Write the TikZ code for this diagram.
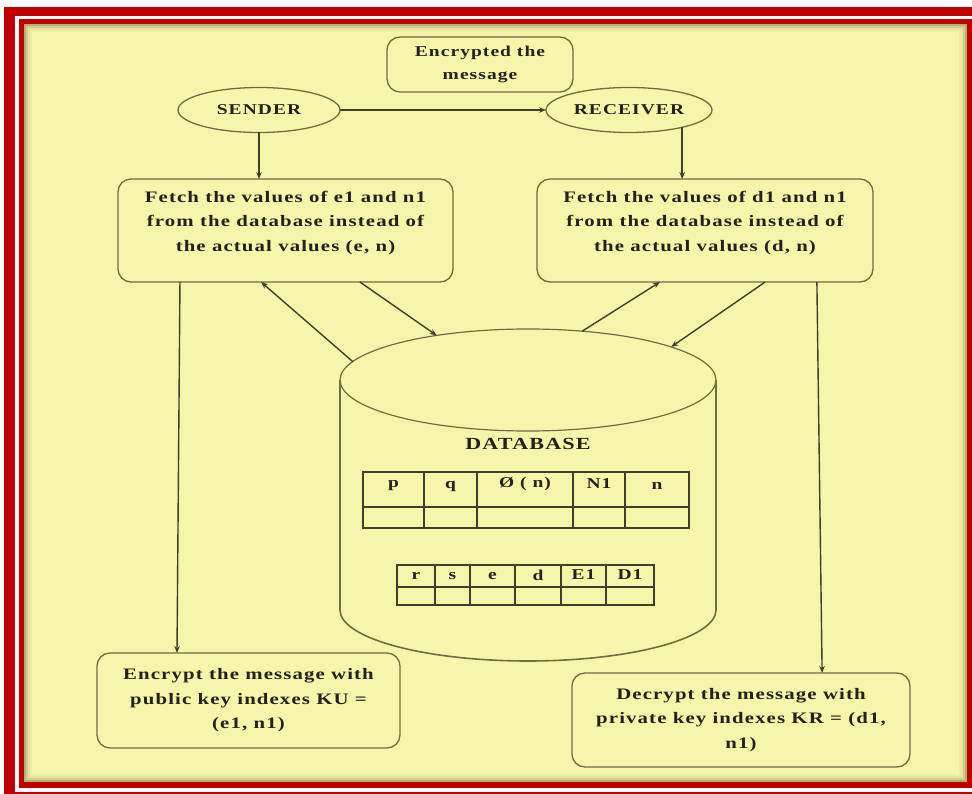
\documentclass[tikz,border=0pt]{standalone}
\usepackage{fontspec}
\usetikzlibrary{shapes.geometric,arrows.meta,calc}
\newfontfamily\diagfont{Liberation Serif}[FakeStretch=1.3,LetterSpace=7]
\definecolor{panel}{HTML}{F6F6AB}
\definecolor{framered}{HTML}{C00000}
\definecolor{boxline}{HTML}{6E6E40}
\definecolor{lineclr}{HTML}{40402A}
\definecolor{txt}{HTML}{22221A}
\tikzset{
  boxnode/.style={draw=boxline, line width=1.3pt, rounded corners=13pt, fill=panel,
    align=center, text=txt, inner sep=0pt, outer sep=0pt,
    font=\diagfont\bfseries\fontsize{16}{24.5}\selectfont},
  ovalnode/.style={draw=boxline, line width=1.3pt, ellipse, fill=panel, text=txt,
    inner sep=0pt, outer sep=0pt, font=\diagfont\bfseries\fontsize{15}{18}\selectfont},
  arr/.style={draw=lineclr, line width=1.4pt, -{Stealth[length=7pt,width=5.5pt]}},
  cell/.style={text=txt, inner sep=0pt, font=\diagfont\bfseries\fontsize{15}{16}\selectfont},
  tabline/.style={draw=lineclr, line width=1.5pt},
}
\begin{document}
\begin{tikzpicture}[x=1pt,y=-1pt]
\useasboundingbox (0,0) rectangle (972,794);
\clip (0,0) rectangle (972,794);
% frame
\fill[white] (0,0) rectangle (972,794);
\fill[framered] (4,7) rectangle (1000,820);
\fill[white] (15,16) rectangle (1000,792);
\fill[framered] (19,19) rectangle (1000,788);
\fill[panel] (24,24) rectangle (967,782);
\draw[olive!60!black, opacity=0.45, line width=2pt] (25,25) rectangle (966,781);
\draw[olive!60!black, opacity=0.25, line width=2pt] (27,27) rectangle (964,779);
\draw[olive!60!black, opacity=0.12, line width=2pt] (29,29) rectangle (962,777);
\draw[olive!60!black, opacity=0.06, line width=2pt] (31,31) rectangle (960,775);

% top
\node[boxnode, minimum width=186pt, minimum height=55pt,
      font=\diagfont\bfseries\fontsize{15}{23}\selectfont] (enc) at (480,64.5) {Encrypted the\\message};
\node[ovalnode, minimum width=162pt, minimum height=45pt] (sender) at (259,110) {SENDER};
\node[ovalnode, minimum width=166pt, minimum height=45pt] (receiver) at (629,110) {RECEIVER};

% fetch boxes
\node[boxnode, minimum width=335pt, minimum height=103pt] (fetchL) at (285.5,230.5)
  {Fetch the values of e1 and n1\\from the database instead of\\the actual values (e, n)\\[-6pt]\mbox{}};
\node[boxnode, minimum width=336pt, minimum height=103pt] (fetchR) at (705,230.5)
  {Fetch the values of d1 and n1\\from the database instead of\\the actual values (d, n)\\[-6pt]\mbox{}};

% bottom boxes
\node[boxnode, minimum width=303pt, minimum height=95pt] (encL) at (248.5,700.5)
  {Encrypt the message with\\public key indexes KU =\\(e1, n1)};
\node[boxnode, minimum width=338pt, minimum height=94pt] (decR) at (741,720)
  {Decrypt the message with\\private key indexes KR = (d1,\\n1)};

% database cylinder
\node[ellipse, draw=boxline, line width=1.2pt, fill=panel, inner sep=0pt, outer sep=0pt,
      minimum width=376pt, minimum height=102pt] (dbtop) at (528,380) {};
\draw[boxline, line width=1.6pt] (dbtop.west) -- ++(0,230)
   arc[start angle=180, end angle=360, x radius=188pt, y radius=51pt] -- (dbtop.east);
\node[cell, font=\diagfont\bfseries\fontsize{17}{18}\selectfont] (dblabel) at (528,444) {DATABASE};

% table 1
\draw[tabline] (363,472) rectangle (689,528);
\draw[tabline] (363,507) -- (689,507);
\foreach \x in {424,477,573,625} \draw[tabline] (\x,472) -- (\x,528);
\node[cell] (t1a) at (393.5,486) {p};
\node[cell] (t1b) at (450.5,486) {q};
\node[cell] (t1c) at (525,484) {Ø ( n)};
\node[cell] (t1d) at (599,484) {N1};
\node[cell] (t1e) at (657,486) {n};

% table 2
\draw[tabline] (397,565) rectangle (654,605);
\draw[tabline] (397,587) -- (654,587);
\foreach \x in {435,470,515,561,606} \draw[tabline] (\x,565) -- (\x,605);
\node[cell] (t2a) at (416,576) {r};
\node[cell] (t2b) at (452.5,576) {s};
\node[cell] (t2c) at (492.5,576) {e};
\node[cell] (t2d) at (538,575) {d};
\node[cell] (t2e) at (583.5,575) {E1};
\node[cell] (t2f) at (630,575) {D1};

% connectors
\draw[arr] (sender.south) -- (sender.south |- fetchL.north);
\draw[arr] (sender.east) -- (receiver.west);
\draw[arr] (receiver.-18) -- (receiver.-18 |- fetchR.north);
\draw[arr] (dbtop.174) -- ($(fetchL.south west)!0.427!(fetchL.south east)$);
\draw[arr] ($(fetchL.south west)!0.722!(fetchL.south east)$) -- (dbtop.154);
\draw[arr] (dbtop.42) -- ($(fetchR.south west)!0.366!(fetchR.south east)$);
\draw[arr] ($(fetchR.south west)!0.679!(fetchR.south east)$) -- (dbtop.13);
\draw[arr] ($(fetchL.south west)!0.185!(fetchL.south east)$) -- ($(encL.north west)!0.264!(encL.north east)$);
\draw[arr] ($(fetchR.south west)!0.833!(fetchR.south east)$) -- ($(decR.north west)!0.74!(decR.north east)$);
\end{tikzpicture}
\end{document}
